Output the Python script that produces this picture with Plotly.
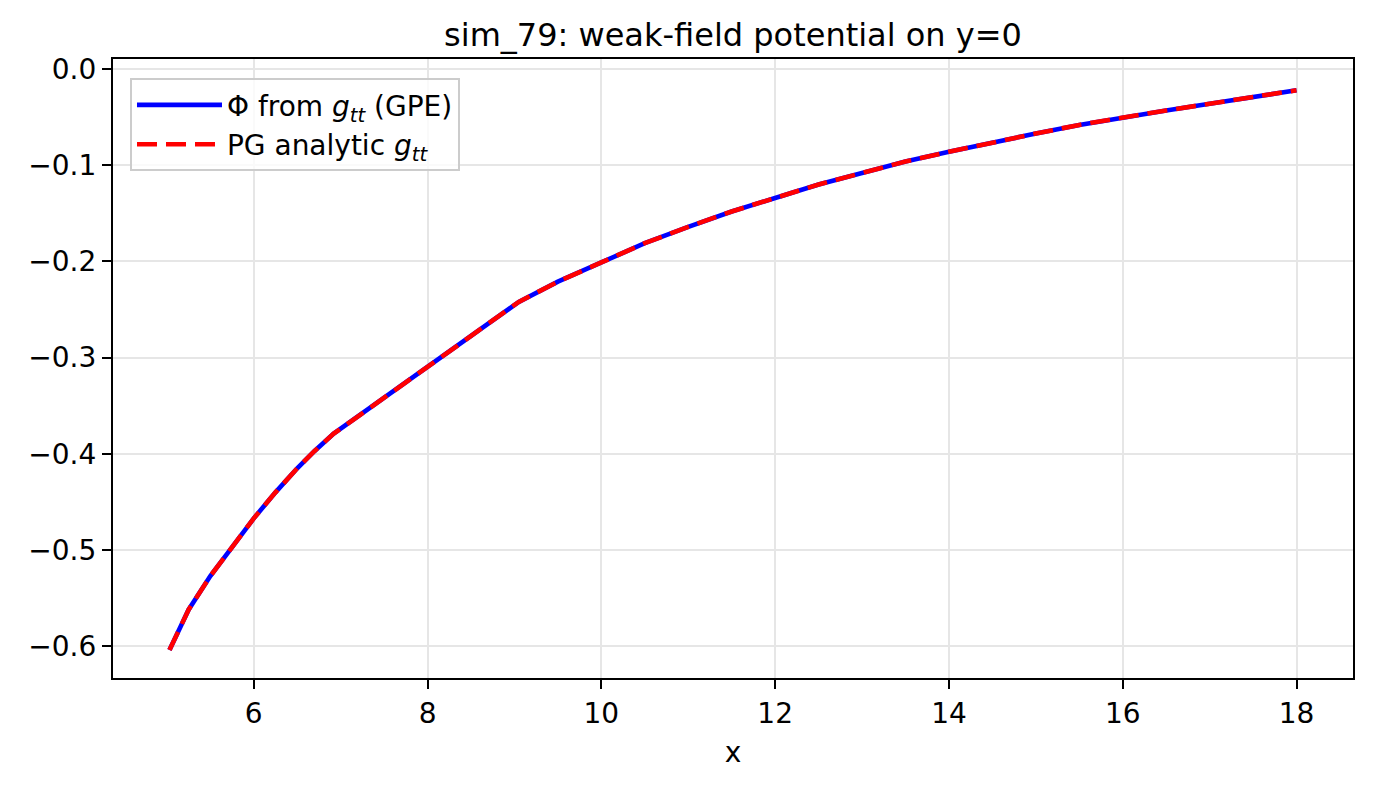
import plotly.graph_objects as go

# values (both traces lie on top of each other)
x_vals = [5.03, 5.25, 5.5, 5.75, 6.0, 6.25, 6.5, 6.7, 6.92, 9.05, 9.5, 10.0, 10.5, 11.0,
          11.5, 12.0, 12.5, 13.0, 13.5, 14.0, 14.5, 15.0, 15.5, 16.0, 16.5, 17.0, 17.5, 18.0]
phi_gpe = [-0.604, -0.562, -0.527, -0.496, -0.467, -0.440, -0.415, -0.397, -0.379, -0.242,
           -0.221, -0.201, -0.181, -0.164, -0.148, -0.134, -0.120, -0.108, -0.096, -0.086,
           -0.076, -0.067, -0.058, -0.050, -0.043, -0.036, -0.029, -0.022]
phi_pg = [-0.604, -0.562, -0.527, -0.496, -0.467, -0.440, -0.415, -0.397, -0.379, -0.242,
          -0.221, -0.201, -0.181, -0.164, -0.148, -0.134, -0.120, -0.108, -0.096, -0.086,
          -0.076, -0.067, -0.058, -0.050, -0.043, -0.036, -0.029, -0.022]

x_ticks = [6, 8, 10, 12, 14, 16, 18]
y_ticks = [-0.6, -0.5, -0.4, -0.3, -0.2, -0.1, 0.0]

font = "DejaVu Sans"

fig = go.Figure()
fig.add_trace(go.Scatter(x=x_vals, y=phi_gpe, mode='lines',
                         name='Φ from <i>g</i><sub><i>tt</i></sub> (GPE)',
                         line=dict(color='blue', width=4.6)))
fig.add_trace(go.Scatter(x=x_vals, y=phi_pg, mode='lines',
                         name='PG analytic <i>g</i><sub><i>tt</i></sub>',
                         line=dict(color='red', width=4.6, dash='20px,9px')))

axis_style = dict(showline=True, linecolor='black', linewidth=2.2, mirror=True,
                  ticks='outside', ticklen=9, tickwidth=2.2, tickcolor='black',
                  showgrid=True, gridcolor='#e6e6e6', gridwidth=2, zeroline=False,
                  tickfont=dict(family=font, size=28, color='black'))

# page body adds an 8px offset, so the figure is made 8px smaller
fig.update_layout(
    width=1365, height=779,
    paper_bgcolor='white', plot_bgcolor='white',
    margin=dict(l=105, r=20, t=51, b=109),
    title=dict(text='sim_79: weak-field potential on y=0', x=0.5, xref='paper', xanchor='center',
               y=0.966, yanchor='middle', font=dict(family=font, size=32, color='black')),
    font=dict(family=font, size=28, color='black'),
    legend=dict(x=0.0137, y=0.969, xanchor='left', yanchor='top',
                bgcolor='rgba(255,255,255,0.8)', bordercolor='#cccccc', borderwidth=2,
                font=dict(family=font, size=28, color='black'), itemwidth=85),
    showlegend=True,
)
fig.update_xaxes(range=[4.38, 18.65], tickvals=x_ticks,
                 title=dict(text='x', font=dict(family=font, size=28, color='black'), standoff=14),
                 **axis_style)
fig.update_yaxes(range=[-0.633, 0.0105], tickvals=y_ticks, tickformat='.1f', **axis_style)

fig.write_html("out.html")
